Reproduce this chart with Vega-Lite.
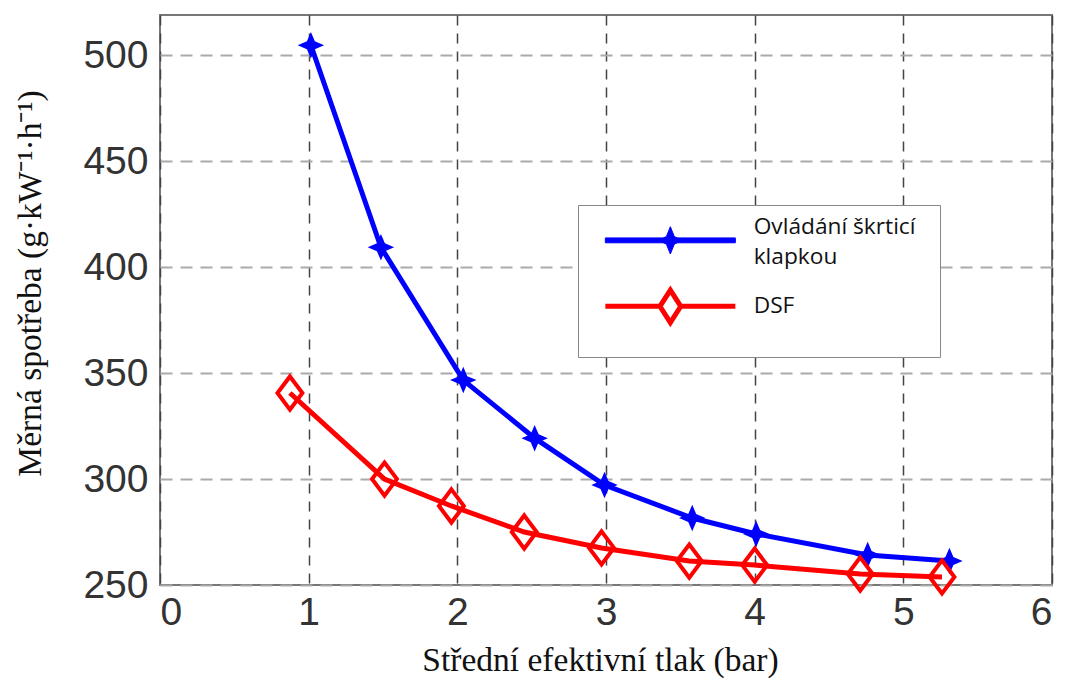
{
  "$schema": "https://vega.github.io/schema/vega-lite/v6.json",
  "width": 892,
  "height": 570,
  "autosize": "none",
  "padding": {"left": 160, "top": 15, "right": 15, "bottom": 101},
  "background": "white",
  "config": {
    "view": {"stroke": "#777", "strokeWidth": 2},
    "axis": {"domain": false, "ticks": false}
  },
  "data": {
    "values": [
      {"x": 1.015, "y": 504.7, "series": "Ovládání škrticí klapkou"},
      {"x": 1.486, "y": 409.4, "series": "Ovládání škrticí klapkou"},
      {"x": 2.04, "y": 346.7, "series": "Ovládání škrticí klapkou"},
      {"x": 2.52, "y": 319.3, "series": "Ovládání škrticí klapkou"},
      {"x": 2.99, "y": 297.2, "series": "Ovládání škrticí klapkou"},
      {"x": 3.58, "y": 281.6, "series": "Ovládání škrticí klapkou"},
      {"x": 4.01, "y": 274.1, "series": "Ovládání škrticí klapkou"},
      {"x": 4.76, "y": 264.2, "series": "Ovládání škrticí klapkou"},
      {"x": 5.31, "y": 261.3, "series": "Ovládání škrticí klapkou"},
      {"x": 0.874, "y": 340.6, "series": "DSF"},
      {"x": 1.51, "y": 300.0, "series": "DSF"},
      {"x": 1.96, "y": 287.3, "series": "DSF"},
      {"x": 2.45, "y": 275.0, "series": "DSF"},
      {"x": 2.97, "y": 267.5, "series": "DSF"},
      {"x": 3.56, "y": 261.3, "series": "DSF"},
      {"x": 4.0, "y": 259.4, "series": "DSF"},
      {"x": 4.71, "y": 255.2, "series": "DSF"},
      {"x": 5.26, "y": 253.8, "series": "DSF"}
    ]
  },
  "encoding": {
    "x": {
      "field": "x", "type": "quantitative",
      "scale": {"domain": [0, 6], "nice": false, "zero": false},
      "axis": {
        "values": [0, 1, 2, 3, 4, 5, 6], "format": "d",
        "title": "Střední efektivní tlak (bar)",
        "titleFont": "Liberation Serif", "titleFontSize": 33.5, "titleFontWeight": "normal", "titleColor": "#111",
        "titlePadding": 12, "titleX": 440,
        "labelFont": "Liberation Sans", "labelFontSize": 39, "labelColor": "#333", "labelPadding": 8,
        "grid": true, "gridColor": "#444", "gridWidth": 1.5, "gridDash": [10, 8]
      }
    },
    "y": {
      "field": "y", "type": "quantitative",
      "scale": {"domain": [250, 519], "nice": false, "zero": false},
      "axis": {
        "values": [250, 300, 350, 400, 450, 500],
        "title": "Měrná spotřeba (g·kW⁻¹·h⁻¹)",
        "titleFont": "Liberation Serif", "titleFontSize": 33.5, "titleFontWeight": "normal", "titleColor": "#111",
        "titleX": -130, "titleY": 268, "titleAngle": -90, "titleBaseline": "middle", "titleAlign": "center",
        "labelFont": "Liberation Sans", "labelFontSize": 39, "labelColor": "#333", "labelPadding": 12,
        "grid": true, "gridColor": "#aaa", "gridWidth": 2, "gridDash": [12, 8]
      }
    }
  },
  "layer": [
    {
      "mark": {"type": "line", "strokeWidth": 5},
      "encoding": {
        "color": {
          "field": "series", "type": "nominal",
          "scale": {"domain": ["Ovládání škrticí klapkou", "DSF"], "range": ["#0000ff", "#ff0000"]},
          "legend": {
            "orient": "none", "legendX": 418, "legendY": 190,
            "title": null,
            "direction": "vertical",
            "strokeColor": "#888", "fillColor": "white", "padding": 24,
            "symbolSize": 4225, "symbolOffset": 57, "labelOffset": 72,
            "rowPadding": 10,
            "labelFont": "Open Sans", "labelFontSize": 22.7, "labelColor": "#111", "labelLimit": 0,
            "labelExpr": "datum.value == 'DSF' ? 'DSF' : ['Ovládání škrticí', 'klapkou']",
            "encode": {
              "labels": {"update": {"lineHeight": {"value": 30}, "dy": {"signal": "datum.value == 'DSF' ? 0 : -13"}}},
              "symbols": {
                "update": {
                  "shape": {"signal": "datum.value == 'DSF' ? 'M-2,0L-0.3,0M0.3,0L2,0M0,-0.5L0.32,0L0,0.5L-0.32,0Z' : 'M-2,-0.075L2,-0.075L2,0.075L-2,0.075Z M0,-0.42L0.12,-0.12L0.35,0L0.12,0.12L0,0.42L-0.12,0.12L-0.35,0L-0.12,-0.12Z'"},
                  "fill": {"signal": "datum.value == 'DSF' ? 'transparent' : '#0000ff'"},
                  "stroke": {"signal": "datum.value == 'DSF' ? '#ff0000' : '#0000ff'"},
                  "strokeWidth": {"signal": "datum.value == 'DSF' ? 5 : 1"},
                  "opacity": {"value": 1}
                }
              }
            }
          }
        }
      }
    },
    {
      "transform": [{"filter": "datum.series != 'DSF'"}],
      "mark": {"type": "point", "filled": true, "color": "#0000ff", "opacity": 1,
        "shape": "M0,-1L0.3,-0.3L1,0L0.3,0.3L0,1L-0.3,0.3L-1,0L-0.3,-0.3Z", "size": 700}
    },
    {
      "transform": [{"filter": "datum.series == 'DSF'"}],
      "mark": {"type": "point", "filled": false, "color": "#ff0000", "opacity": 1, "strokeWidth": 4,
        "shape": "M0,-1L0.75,0L0,1L-0.75,0Z", "size": 1100}
    }
  ]
}
